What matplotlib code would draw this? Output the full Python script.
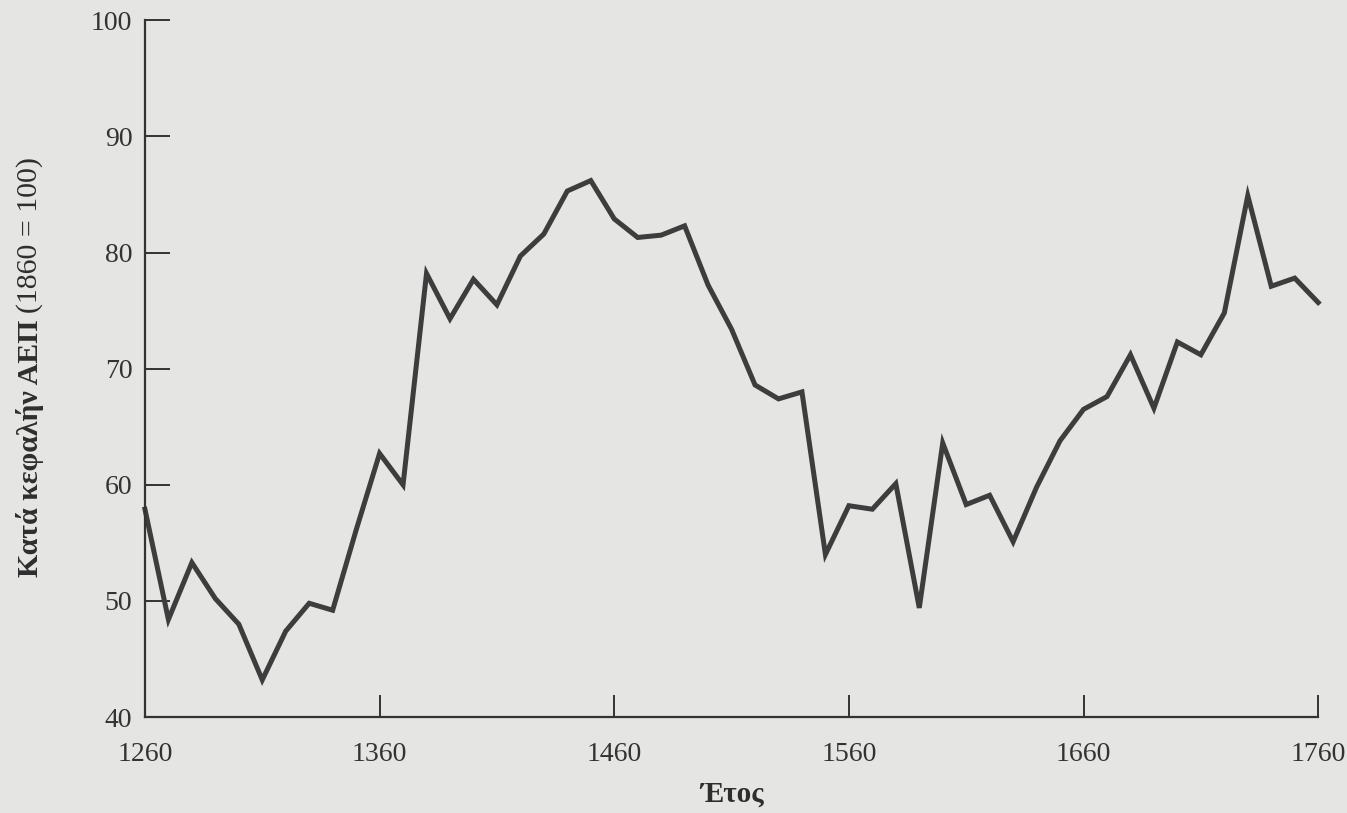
import matplotlib.pyplot as plt

# κατά κεφαλήν ΑΕΠ ανά δεκαετία (1860 = 100)
years = [1260, 1270, 1280, 1290, 1300, 1310, 1320, 1330, 1340, 1350,
         1360, 1370, 1380, 1390, 1400, 1410, 1420, 1430, 1440, 1450,
         1460, 1470, 1480, 1490, 1500, 1510, 1520, 1530, 1540, 1550,
         1560, 1570, 1580, 1590, 1600, 1610, 1620, 1630, 1640, 1650,
         1660, 1670, 1680, 1690, 1700, 1710, 1720, 1730, 1740, 1750,
         1760]
gdp = [57.9, 48.4, 53.3, 50.2, 48.0, 43.2, 47.4, 49.8, 49.2, 56.1,
       62.7, 60.0, 78.2, 74.3, 77.7, 75.5, 79.7, 81.6, 85.3, 86.2,
       82.9, 81.3, 81.5, 82.3, 77.2, 73.4, 68.6, 67.4, 68.0, 54.0,
       58.2, 57.9, 60.1, 49.4, 63.6, 58.3, 59.1, 55.1, 59.8, 63.8,
       66.5, 67.6, 71.2, 66.6, 72.3, 71.2, 74.8, 84.9, 77.1, 77.8,
       75.7]

x_ticks = [1260, 1360, 1460, 1560, 1660, 1760]
y_ticks = [40, 50, 60, 70, 80, 90, 100]

BG = '#e5e5e3'
INK = '#333333'

plt.rcParams['font.family'] = ['Liberation Serif', 'DejaVu Serif']

fig = plt.figure(figsize=(13.47, 8.13), dpi=100, facecolor=BG)
ax = fig.add_axes([0.1076, 0.118, 0.871, 0.857], facecolor=BG)

ax.plot(years, gdp, color='#3d3d3d', linewidth=3.6, solid_joinstyle='miter',
        clip_on=False)

ax.set_xlim(1260, 1760)
ax.set_ylim(40, 100)
ax.set_xticks(x_ticks)
ax.set_yticks(y_ticks)

for side in ['top', 'right']:
    ax.spines[side].set_visible(False)
for side in ['left', 'bottom']:
    ax.spines[side].set_color(INK)
    ax.spines[side].set_linewidth(1.6)

ax.tick_params(axis='y', direction='in', length=18, width=1.4, colors=INK,
               labelsize=20, pad=9)
ax.tick_params(axis='x', direction='in', length=16, width=1.4, colors=INK,
               labelsize=20, pad=18)

# άξονας y: έντονο μέρος + κανονικό μέρος, το ένα μετά το άλλο
bold_part = fig.text(0.022, 0.29, 'Κατά κεφαλήν ΑΕΠ', rotation=90,
                     fontsize=21.5, fontweight='bold', color='#2e2e2e',
                     ha='center', va='bottom')
fig.canvas.draw()
bb = bold_part.get_window_extent(fig.canvas.get_renderer())
top = bb.y1 / fig.bbox.height + 0.008
fig.text(0.022, top, '(1860 = 100)', rotation=90, fontsize=21.5,
         color='#2e2e2e', ha='center', va='bottom')

ax.set_xlabel('Έτος', fontsize=21, fontweight='bold', color='#2e2e2e',
              labelpad=10)

fig.savefig('out.png', dpi=100, facecolor=BG)
plt.close()
